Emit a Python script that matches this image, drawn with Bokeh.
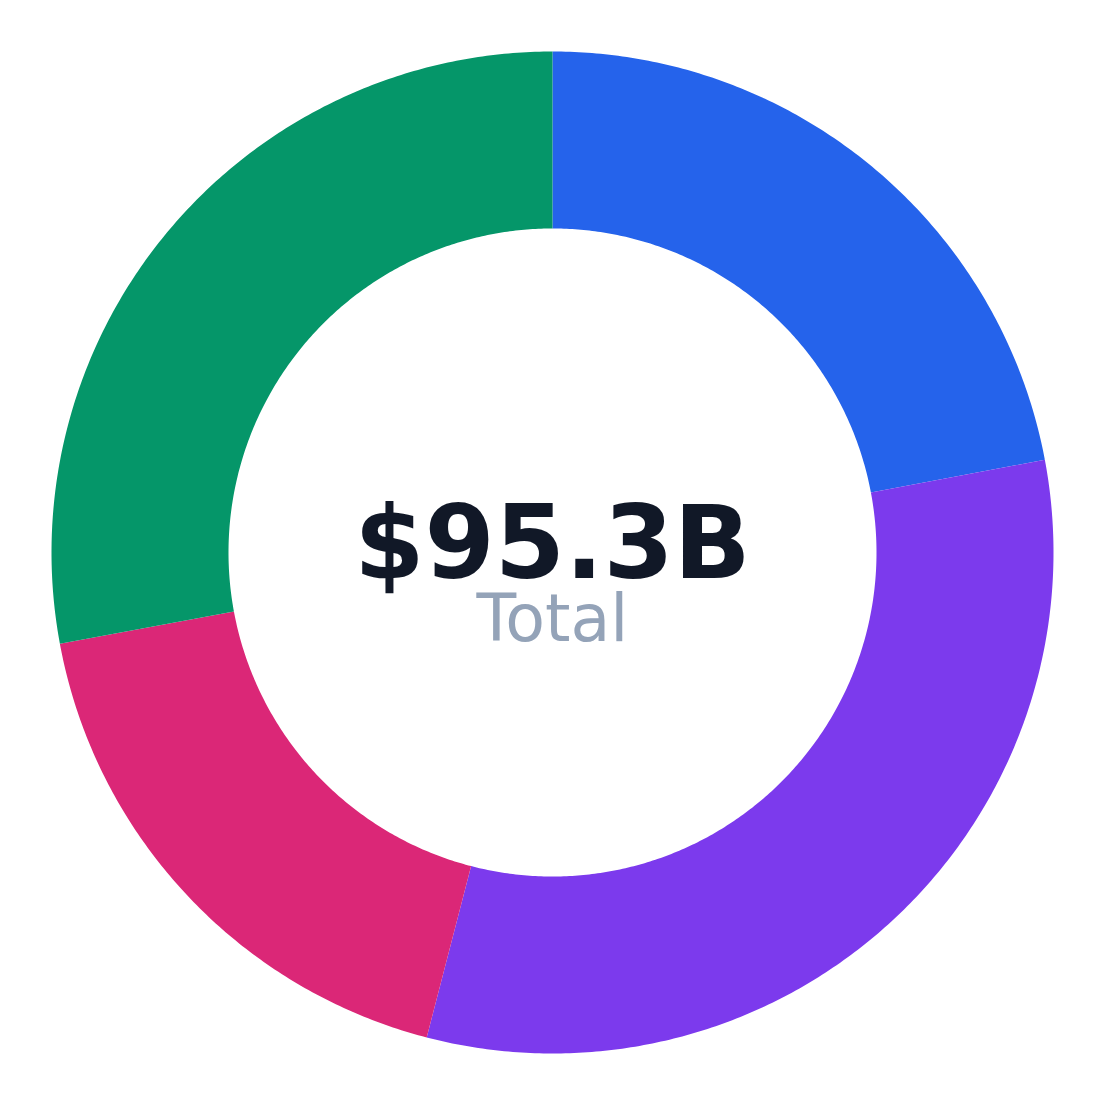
import math
from bokeh.plotting import figure
from bokeh.models import ColumnDataSource, Range1d, Label
from bokeh.embed import file_html
from bokeh.resources import INLINE

categories = ["Segment A", "Segment B", "Segment C", "Segment D"]
values = [21.0, 30.5, 17.2, 26.6]
colors = ["#2563EB", "#7C3AED", "#DB2777", "#059669"]
total_label = "$95.3B"
sub_label = "Total"

INNER, OUTER = 324, 501
total = sum(values)
xs, ys = [], []
acc = 0.0
for v in values:
    a0 = math.pi / 2 - 2 * math.pi * acc / total
    acc += v
    a1 = math.pi / 2 - 2 * math.pi * acc / total
    n = max(8, int(abs(a1 - a0) / (2 * math.pi) * 720))
    angs = [a0 + (a1 - a0) * i / n for i in range(n + 1)]
    px = [OUTER * math.cos(a) for a in angs] + [INNER * math.cos(a) for a in reversed(angs)]
    py = [OUTER * math.sin(a) for a in angs] + [INNER * math.sin(a) for a in reversed(angs)]
    xs.append(px)
    ys.append(py)

src = ColumnDataSource(dict(cat=categories, val=values, color=colors, xs=xs, ys=ys))

W = 1104
p = figure(width=W, height=W, output_backend="svg", toolbar_location=None,
           x_range=Range1d(-W / 2, W / 2), y_range=Range1d(-W / 2, W / 2),
           min_border=0, title=None)
p.axis.visible = False
p.grid.visible = False
p.outline_line_color = None
p.background_fill_color = "white"
p.border_fill_color = "white"

p.patches(xs="xs", ys="ys", fill_color="color", line_color=None, source=src)

p.add_layout(Label(x=0, y=-66, text=sub_label, text_align="center",
                   text_baseline="alphabetic", text_font="DejaVu Sans",
                   text_font_size="65px", text_color="#94A3B8"))
p.add_layout(Label(x=0, y=10, text=total_label, text_align="center",
                   text_baseline="alphabetic", text_font="DejaVu Sans",
                   text_font_style="bold", text_font_size="101px",
                   text_color="#111827"))

open("out.html", "w").write(file_html(p, INLINE))
